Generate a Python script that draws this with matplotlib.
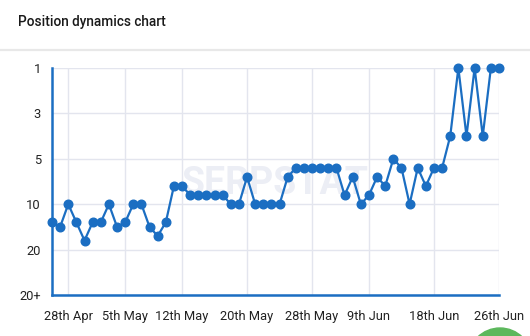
import numpy as np
import matplotlib
matplotlib.use("Agg")
import matplotlib.pyplot as plt
from matplotlib.transforms import ScaledTranslation
from matplotlib.patches import Ellipse

# ---- data ----
positions = [14, 15, 10, 14, 18, 14, 14, 10, 15, 14, 10, 10, 15, 17, 14,
             8, 8, 9, 9, 9, 9, 9, 10, 10, 7, 10, 10, 10, 10,
             7, 6, 6, 6, 6, 6, 6, 9, 7, 10, 9, 7, 8, 5, 6, 10, 6, 8,
             6, 6, 4, 1, 4, 1, 4, 1, 1]
date_tick_idx = [2, 9, 16, 24, 32, 39, 47, 55]
date_tick_labels = ["28th Apr", "5th May", "12th May", "20th May",
                    "28th May", "9th Jun", "18th Jun", "26th Jun"]
y_tick_vals = [1, 3, 5, 10, 20, 21]
y_tick_labels = ["1", "3", "5", "10", "20", "20+"]

plt.rcParams['font.family'] = ['Roboto', 'DejaVu Sans']

BLUE = "#1b6ec2"
GRID = "#e3e5ee"

W, H = 530, 336
fig = plt.figure(figsize=(W / 100, H / 100), dpi=100)
fig.patch.set_facecolor("white")

# header
fig.text(18 / W, 1 - 22 / H, "Position dynamics chart", fontsize=9.8,
         fontweight="medium", color="#1a1a1a", va="center", ha="left")
fig.add_artist(plt.Line2D([0, 1], [1 - 50 / H, 1 - 50 / H], color="#e8e8e8",
                          lw=1.6, transform=fig.transFigure))

# axes
left, right = 52 / W, 499 / W
top, bottom = 1 - 68 / H, 1 - 295 / H
ax = fig.add_axes([left, bottom, right - left, top - bottom])

bp = np.array(y_tick_vals, dtype=float)
bu = np.arange(len(bp), dtype=float)


def fwd(v):
    return np.interp(v, bp, bu)


def inv(u):
    return np.interp(u, bu, bp)


ax.set_yscale("function", functions=(fwd, inv))

x = np.arange(len(positions))

# watermark
ax.text(0.5, 0.49, "SERPSTAT", transform=ax.transAxes, fontsize=27,
        fontweight="bold", color="#eceef5", ha="center", va="center",
        zorder=0.5)

ax.plot(x, positions, color=BLUE, lw=1.6, marker="o", markersize=6.2,
        markerfacecolor=BLUE, markeredgecolor=BLUE, clip_on=False, zorder=3)

ax.set_xlim(0, len(positions) - 1)
ax.set_ylim(21, 1)
ax.set_yticks(y_tick_vals)
ax.set_yticklabels(y_tick_labels)
ax.set_xticks(date_tick_idx)
ax.set_xticklabels(date_tick_labels)

# last x label nudged left to stay inside
lbls = ax.get_xticklabels()
lbls[-1].set_transform(lbls[-1].get_transform() +
                       ScaledTranslation(-8 / 100, 0, fig.dpi_scale_trans))

ax.grid(True, color=GRID, lw=1.0, zorder=0)
ax.set_axisbelow(True)
for s in ["top", "right"]:
    ax.spines[s].set_visible(False)
for s in ["left", "bottom"]:
    ax.spines[s].set_color(BLUE)
    ax.spines[s].set_linewidth(1.8)
ax.tick_params(axis="both", length=0, labelsize=9.3, colors="#222222")
ax.tick_params(axis="y", pad=8)
ax.tick_params(axis="x", pad=11)

# green button partially visible at bottom-right
fig.add_artist(Ellipse((500 / W, 1 - 360 / H), 64 / W, 64 / H,
                       color="#5cb85c", transform=fig.transFigure,
                       clip_on=False))

fig.savefig("out.png", dpi=100, facecolor="white")
